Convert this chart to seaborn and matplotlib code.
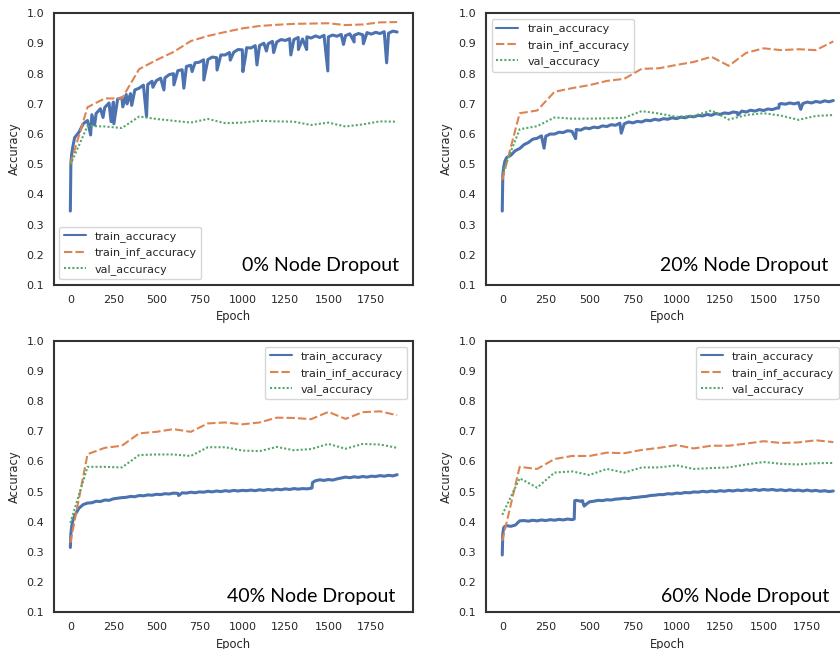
import numpy as np
import pandas as pd
import seaborn as sns
import matplotlib.pyplot as plt

sns.set_style("white")
sns.set_palette("deep")
plt.rcParams["font.family"] = ["DejaVu Sans"]
plt.rcParams["axes.linewidth"] = 1.5
plt.rcParams["lines.linewidth"] = 1.5

# --- data ---
# train_inf_accuracy and val_accuracy are logged every 100 epochs
EVAL_EPOCHS = list(range(0, 1901, 100))

# train_accuracy: dense curve, sampled at these epochs (+ single spikes below)
TRAIN_EPOCHS = [0, 3, 8, 15] + list(range(25, 1901, 25))

# 0% node dropout
tl_train = [0.345, 0.500, 0.535, 0.560,
            0.588, 0.606, 0.634, 0.645, 0.664, 0.668, 0.684, 0.688, 0.703, 0.706,
            0.716, 0.720, 0.731, 0.734, 0.746, 0.752, 0.762, 0.764, 0.775, 0.777,
            0.785, 0.786, 0.797, 0.800, 0.810, 0.813, 0.824, 0.828, 0.836, 0.838,
            0.846, 0.847, 0.855, 0.853, 0.862, 0.862, 0.870, 0.871, 0.880, 0.879,
            0.886, 0.885, 0.893, 0.893, 0.901, 0.899, 0.907, 0.905, 0.913, 0.910,
            0.916, 0.913, 0.920, 0.915, 0.922, 0.918, 0.925, 0.920, 0.927, 0.922,
            0.928, 0.924, 0.930, 0.926, 0.932, 0.927, 0.933, 0.929, 0.936, 0.931,
            0.937, 0.933, 0.939, 0.934, 0.941, 0.938]
tl_spikes = [(118, 0.597), (141, 0.630), (190, 0.655), (237, 0.641), (253, 0.634),
             (305, 0.690), (330, 0.700), (357, 0.695), (443, 0.658), (480, 0.755),
             (544, 0.746), (602, 0.763), (660, 0.752), (708, 0.807), (776, 0.779),
             (853, 0.812), (930, 0.845), (1003, 0.807), (1018, 0.855), (1085, 0.829),
             (1140, 0.875), (1182, 0.870), (1282, 0.862), (1326, 0.880), (1374, 0.880),
             (1497, 0.809), (1588, 0.897), (1650, 0.905), (1704, 0.899), (1839, 0.836)]
tl_inf = [0.500, 0.689, 0.718, 0.718, 0.815, 0.845, 0.872, 0.908, 0.925, 0.938,
          0.950, 0.958, 0.962, 0.965, 0.966, 0.967, 0.961, 0.963, 0.970, 0.971]
tl_val = [0.498, 0.627, 0.625, 0.620, 0.658, 0.650, 0.644, 0.638, 0.650, 0.636,
          0.638, 0.644, 0.642, 0.641, 0.630, 0.638, 0.625, 0.632, 0.642, 0.641]

# 20% node dropout
tr_train = [0.345, 0.460, 0.490, 0.510,
            0.522, 0.530, 0.545, 0.552, 0.565, 0.572, 0.583, 0.586, 0.594, 0.593,
            0.600, 0.600, 0.606, 0.605, 0.611, 0.609, 0.615, 0.613, 0.620, 0.618,
            0.623, 0.621, 0.627, 0.625, 0.631, 0.629, 0.636, 0.634, 0.640, 0.637,
            0.642, 0.640, 0.646, 0.644, 0.649, 0.646, 0.651, 0.649, 0.654, 0.651,
            0.656, 0.654, 0.659, 0.657, 0.662, 0.660, 0.665, 0.662, 0.668, 0.665,
            0.670, 0.668, 0.673, 0.671, 0.676, 0.673, 0.679, 0.676, 0.681, 0.678,
            0.683, 0.681, 0.686, 0.701, 0.699, 0.703, 0.700, 0.704, 0.701, 0.706,
            0.703, 0.708, 0.705, 0.710, 0.707, 0.711]
tr_spikes = [(240, 0.553), (421, 0.585), (683, 0.603), (1352, 0.663),
             (1587, 0.686), (1590, 0.699), (1713, 0.682)]
tr_inf = [0.448, 0.669, 0.678, 0.740, 0.752, 0.762, 0.776, 0.783, 0.816, 0.818,
          0.829, 0.839, 0.856, 0.826, 0.869, 0.884, 0.878, 0.881, 0.878, 0.907]
tr_val = [0.470, 0.616, 0.626, 0.655, 0.651, 0.651, 0.652, 0.654, 0.676, 0.668,
          0.657, 0.660, 0.678, 0.648, 0.663, 0.669, 0.661, 0.647, 0.660, 0.663]

# 40% node dropout
bl_train = [0.315, 0.360, 0.385, 0.405,
            0.420, 0.445, 0.457, 0.462, 0.463, 0.468, 0.467, 0.472, 0.471, 0.476,
            0.478, 0.480, 0.481, 0.484, 0.483, 0.487, 0.486, 0.489, 0.488, 0.491,
            0.490, 0.493, 0.492, 0.495, 0.494, 0.496, 0.495, 0.498, 0.496, 0.499,
            0.498, 0.501, 0.499, 0.502, 0.500, 0.503, 0.501, 0.504, 0.502, 0.504,
            0.503, 0.505, 0.503, 0.506, 0.504, 0.507, 0.505, 0.508, 0.506, 0.509,
            0.507, 0.510, 0.508, 0.510, 0.509, 0.511, 0.536, 0.539, 0.537, 0.540,
            0.538, 0.542, 0.545, 0.548, 0.546, 0.549, 0.547, 0.550, 0.548, 0.551,
            0.550, 0.553, 0.551, 0.554, 0.552, 0.556]
bl_spikes = [(630, 0.487), (1405, 0.512), (1408, 0.530)]
bl_inf = [0.330, 0.624, 0.645, 0.652, 0.693, 0.698, 0.707, 0.698, 0.726, 0.729,
          0.723, 0.729, 0.745, 0.744, 0.740, 0.764, 0.741, 0.763, 0.766, 0.753]
bl_val = [0.396, 0.582, 0.582, 0.580, 0.621, 0.623, 0.623, 0.618, 0.647, 0.647,
          0.636, 0.634, 0.648, 0.637, 0.641, 0.658, 0.642, 0.658, 0.656, 0.645]

# 60% node dropout
br_train = [0.290, 0.360, 0.380, 0.385,
            0.387, 0.385, 0.389, 0.403, 0.404, 0.402, 0.405, 0.403, 0.406, 0.404,
            0.407, 0.405, 0.408, 0.406, 0.409, 0.407, 0.471, 0.468, 0.455, 0.466,
            0.468, 0.471, 0.470, 0.473, 0.472, 0.475, 0.476, 0.478, 0.477, 0.480,
            0.481, 0.483, 0.484, 0.487, 0.488, 0.490, 0.490, 0.493, 0.492, 0.495,
            0.494, 0.497, 0.496, 0.499, 0.498, 0.501, 0.499, 0.502, 0.500, 0.503,
            0.501, 0.504, 0.502, 0.505, 0.503, 0.506, 0.504, 0.507, 0.504, 0.507,
            0.505, 0.507, 0.504, 0.506, 0.503, 0.506, 0.503, 0.505, 0.502, 0.505,
            0.502, 0.504, 0.501, 0.503, 0.500, 0.502]
br_spikes = [(413, 0.409), (416, 0.470), (460, 0.470), (470, 0.452)]
br_inf = [0.336, 0.582, 0.575, 0.608, 0.618, 0.618, 0.629, 0.627, 0.638, 0.645,
          0.654, 0.643, 0.652, 0.652, 0.659, 0.667, 0.661, 0.663, 0.670, 0.664]
br_val = [0.423, 0.544, 0.513, 0.563, 0.567, 0.555, 0.575, 0.563, 0.580, 0.580,
          0.587, 0.575, 0.578, 0.580, 0.590, 0.598, 0.592, 0.590, 0.594, 0.595]

TITLES = ["0% Node Dropout", "20% Node Dropout", "40% Node Dropout", "60% Node Dropout"]
METRICS = ["train_accuracy", "train_inf_accuracy", "val_accuracy"]


def make_df(train, spikes, inf, val):
    ep = TRAIN_EPOCHS + [s[0] for s in spikes]
    acc = train + [s[1] for s in spikes]
    d1 = pd.DataFrame({"Epoch": ep, "Accuracy": acc, "metric": METRICS[0]})
    d2 = pd.DataFrame({"Epoch": EVAL_EPOCHS, "Accuracy": inf, "metric": METRICS[1]})
    d3 = pd.DataFrame({"Epoch": EVAL_EPOCHS, "Accuracy": val, "metric": METRICS[2]})
    return pd.concat([d1, d2, d3], ignore_index=True)


frames = [make_df(tl_train, tl_spikes, tl_inf, tl_val),
          make_df(tr_train, tr_spikes, tr_inf, tr_val),
          make_df(bl_train, bl_spikes, bl_inf, bl_val),
          make_df(br_train, br_spikes, br_inf, br_val)]

W, H = 840, 649
fig = plt.figure(figsize=(W / 100, H / 100), dpi=100)

# axes boxes in pixels: left, right, top, bottom (right panels run past the edge)
boxes = [(54, 413.3, 13.3, 285), (485.7, 849.7, 13.3, 285),
         (54, 413.3, 340.7, 612.3), (485.7, 849.7, 340.7, 612.3)]
legend_pos = [("lower left", 59.3, 279.3), ("upper left", 491.7, 19),
              ("upper right", 407.3, 346.7), ("upper right", 838.5, 346.7)]
text_pos = [(399.3, 270.7), (828.3, 270.7), (395.7, 601.7), (829.3, 601.7)]

for i in range(4):
    l, r, t, b = boxes[i]
    ax = fig.add_axes([l / W, 1 - b / H, (r - l) / W, (b - t) / H])
    sns.lineplot(data=frames[i], x="Epoch", y="Accuracy", hue="metric", style="metric",
                 palette=sns.color_palette("deep", 3),
                 estimator=None, sort=True, linewidth=1.5, ax=ax)
    # the raw training curve is noisy and reads as a thicker band
    ax.lines[0].set_linewidth(2.2)
    ax.set_xlim(-95, 1994)
    ax.set_ylim(0.1, 1.0)
    ax.set_xticks([0, 250, 500, 750, 1000, 1250, 1500, 1750])
    ax.set_yticks(np.round(np.arange(0.1, 1.01, 0.1), 1))
    ax.set_yticklabels([f"{v:.1f}" for v in np.arange(0.1, 1.01, 0.1)])
    ax.tick_params(labelsize=8, colors=".15")
    ax.set_xlabel("Epoch", fontsize=8.3, color=".15")
    ax.set_ylabel("Accuracy", fontsize=8.3, color=".15")
    for s in ax.spines.values():
        s.set_color(".2")

    old = ax.get_legend()
    handles = old.legend_handles
    labels = [tx.get_text() for tx in old.texts]
    loc, lx, ly = legend_pos[i]
    ax.legend(handles, labels, loc=loc, fontsize=8, borderaxespad=0,
              bbox_to_anchor=(lx / W, 1 - ly / H), bbox_transform=fig.transFigure)

    tx, ty = text_pos[i]
    fig.text(tx / W, 1 - ty / H, TITLES[i], ha="right", va="baseline",
             fontsize=14, family=["Lato", "DejaVu Sans"], color="black")

plt.savefig("out.png", dpi=100)
